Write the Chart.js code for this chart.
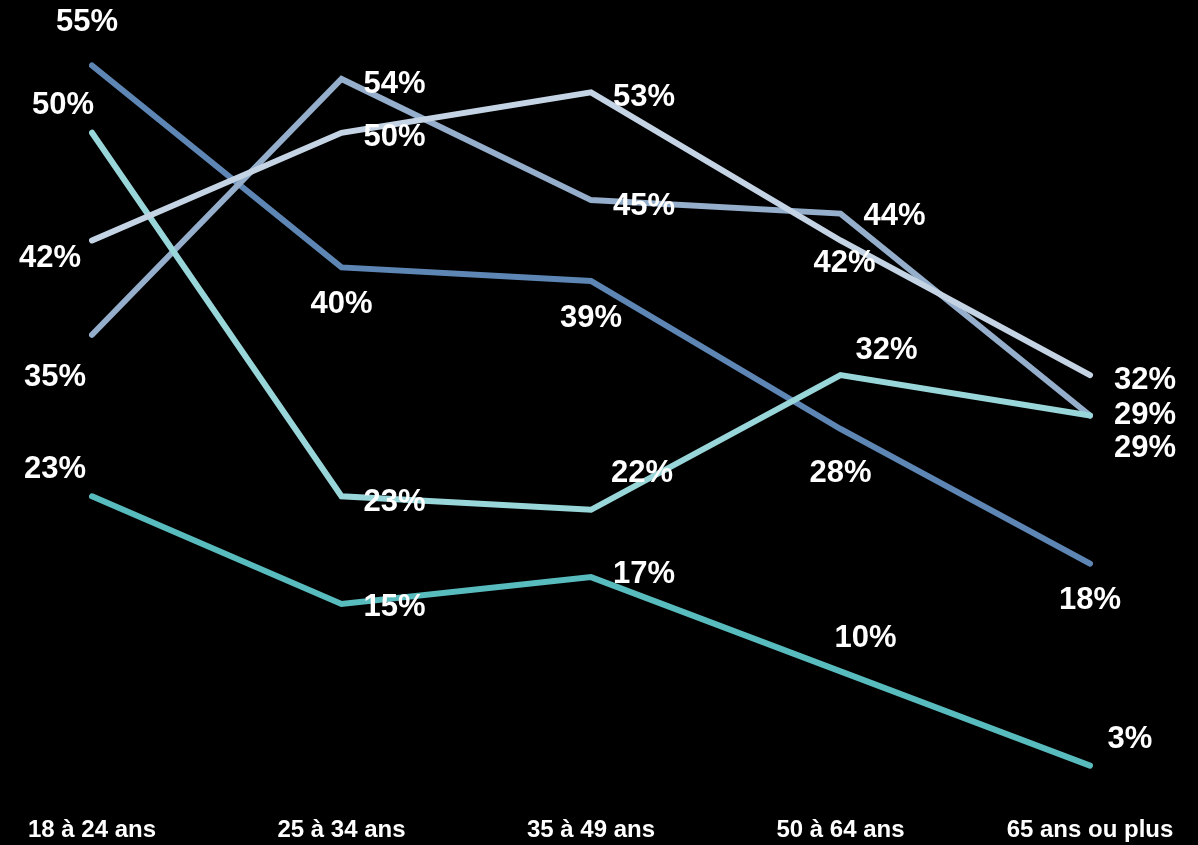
<!DOCTYPE html>
<html>
<head>
<meta charset="utf-8">
<script src="https://cdn.jsdelivr.net/npm/chart.js@4/dist/chart.umd.min.js"></script>
<style>
  html, body { margin: 0; padding: 0; background: #000; }
  canvas { display: block; }
</style>
</head>
<body>
<canvas id="age-chart" width="1198" height="845"></canvas>
<script>
// Categories and series values
const ageGroups = ["18 à 24 ans", "25 à 34 ans", "35 à 49 ans", "50 à 64 ans", "65 ans ou plus"];
const seriesA = [55, 40, 39, 28, 18];
const seriesB = [35, 54, 45, 44, 29];
const seriesC = [42, 50, 53, 42, 32];
const seriesD = [50, 23, 22, 32, 29];
const seriesE = [23, 15, 17, 10, 3];

// Label offsets from each point [dx, dy]
const labelOffsets = [
  [[-5, -43], [0, 37], [0, 38], [0, 44], [0, 37]],
  [[-37, 43], [53, 6], [53, 6], [54, 3], [55, 0]],
  [[-42, 18], [53, 5], [53, 5], [4, 23], [55, 5]],
  [[-29, -27], [53, 6], [51, -36], [46, -25], [55, 33]],
  [[-37, -27], [53, 3], [53, -3], [25, -33], [40, -26]],
];

const colors = ["#5e86b5", "#94aecb", "#c4d4e5", "#98d6d9", "#58bbbd"];
const drawOrder = [4, 3, 1, 2, 0];

const valueLabels = {
  id: "valueLabels",
  afterDatasetsDraw(chart) {
    const ctx = chart.ctx;
    ctx.save();
    ctx.fillStyle = "#ffffff";
    ctx.font = "bold 31px 'Liberation Sans', Arial, sans-serif";
    ctx.textAlign = "center";
    ctx.textBaseline = "middle";
    chart.data.datasets.forEach((ds, i) => {
      chart.getDatasetMeta(i).data.forEach((pt, j) => {
        const off = labelOffsets[i][j];
        ctx.fillText(ds.data[j] + "%", pt.x + off[0], pt.y + off[1]);
      });
    });
    ctx.restore();
  },
};

const allSeries = [seriesA, seriesB, seriesC, seriesD, seriesE];

new Chart(document.getElementById("age-chart").getContext("2d"), {
  type: "line",
  data: {
    labels: ageGroups,
    datasets: allSeries.map((values, i) => ({
      data: values,
      borderColor: colors[i],
      borderWidth: 6,
      borderCapStyle: "round",
      borderJoinStyle: "miter",
      pointRadius: 0,
      tension: 0,
      fill: false,
      order: drawOrder[i],
    })),
  },
  options: {
    responsive: false,
    animation: false,
    layout: { padding: { left: 92, right: 108, top: 52, bottom: 0 } },
    scales: {
      x: {
        offset: false,
        grid: { display: false, drawTicks: false },
        border: { display: false },
        ticks: {
          color: "#ffffff",
          font: { family: "'Liberation Sans', Arial, sans-serif", size: 24, weight: "bold" },
          padding: 10,
          autoSkip: false,
          maxRotation: 0,
        },
        afterFit(scale) { scale.height = 39; },
      },
      y: { display: false, min: 0, max: 56 },
    },
    plugins: {
      legend: { display: false },
      tooltip: { enabled: false },
    },
  },
  plugins: [valueLabels],
});
</script>
</body>
</html>
